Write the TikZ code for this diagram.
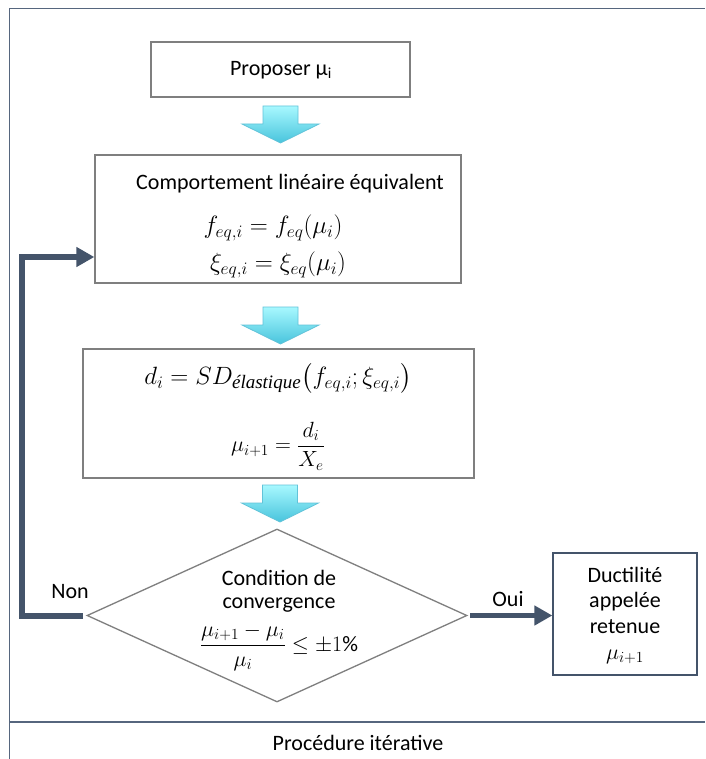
\RequirePackage{fix-cm}
\documentclass[tikz,border=0pt]{standalone}
\usepackage{amsmath}
\usepackage{fontspec}
\setmainfont{Carlito}
\newfontfamily\subserif{Liberation Serif}
\usetikzlibrary{shapes.geometric,arrows.meta}
\definecolor{boxgray}{HTML}{7F7F7F}
\definecolor{slate}{HTML}{44546A}
\definecolor{framecol}{HTML}{56667E}
\definecolor{cyantop}{HTML}{A8F8FF}
\definecolor{cyanbot}{HTML}{48C4DC}
\definecolor{cyanedge}{HTML}{62C3D9}
\tikzset{
  pics/downblock/.style={code={
    \shade[top color=cyantop, bottom color=cyanbot, draw=cyanedge, line width=0.8pt, line join=miter]
      (-17.5,0) -- (17.5,0) -- (17.5,18) -- (38.5,18) -- (0,37) -- (-38.5,18) -- (-17.5,18) -- cycle;
  }},
  txt/.style={font=\fontsize{22}{26}\selectfont, inner sep=0pt},
  bigmath/.style={font=\fontsize{25}{29}\selectfont, inner sep=0pt},
  flowbox/.style={draw=boxgray, line width=1.3pt, rectangle, inner sep=0pt},
  endbox/.style={draw=slate, line width=1.3pt, rectangle, inner sep=0pt},
  decision/.style={draw=boxgray, line width=1.3pt, diamond, inner sep=0pt},
  thickarrow/.style={draw=slate, line width=5.5pt, line join=miter,
    -{Triangle[length=18pt,width=19pt]}},
  framerule/.style={draw=framecol, line width=1.8pt}
}
\begin{document}
\begin{tikzpicture}[x=1pt,y=-1pt]
\useasboundingbox (0,0) rectangle (705,759);
\fill[white] (0,0) rectangle (705,759);

% outer frame
\draw[framerule] (9.5,759) -- (9.5,8.5) -- (705,8.5);
\draw[framerule] (9.5,722) -- (705,722);

% boxes
\node[flowbox, minimum width=259pt, minimum height=55pt] (box1) at (280.5,69.5) {};
\node[flowbox, minimum width=366pt, minimum height=128pt] (box2) at (278,219) {};
\node[flowbox, minimum width=391pt, minimum height=129pt] (box3) at (278.5,413.5) {};
\node[decision, minimum width=380pt, minimum height=173pt] (dia) at (277,615.5) {};
\node[endbox, minimum width=144pt, minimum height=122pt] (box4) at (625,614) {};

% block arrows
\pic at (280.5,106) {downblock};
\pic at (280.5,307) {downblock};
\pic at (280,485) {downblock};

% texts
\node[txt] (t1) at (281,70) {Proposer μ\textsubscript{i}};
\node[txt] (t2a) at (290,184) {Comportement linéaire équivalent};
\node[bigmath] (t2b) at (273,228) {$f_{eq,i} = f_{eq}(\mu_i)$};
\node[bigmath] (t2c) at (278,265) {$\xi_{eq,i} = \xi_{eq}(\mu_i)$};
\node[bigmath] (t3a) at (278,378) {$d_i = SD_{\text{\fontsize{19}{20}\subserif\itshape élastique}}\bigl(f_{eq,i};\xi_{eq,i}\bigr)$};
\node[txt] (t3b) at (278,446) {$\mu_{i+1} = \dfrac{d_i}{X_e}$};
\node[txt] (d1) at (279,578) {Condition de};
\node[txt] (d2) at (279,605) {convergence};
\node[txt] (d3) at (279,647) {$\dfrac{\mu_{i+1}-\mu_i}{\mu_i} \leq \pm 1\%$};
\node[txt] (b4a) at (625,575) {Ductilité};
\node[txt] (b4b) at (625,602) {appelée};
\node[txt] (b4c) at (625,627) {retenue};
\node[txt] (b4d) at (625,657) {$\mu_{i+1}$};

% connectors
\coordinate (nonstart) at (83,616);
\coordinate (nonlow) at (22,616);
\coordinate (nonhigh) at (22,257);
\draw[thickarrow] (nonstart) -- (nonlow) -- (nonhigh) -- (box2.west |- nonhigh);
\coordinate (ouistart) at (470,615.5);
\draw[thickarrow] (ouistart) -- (box4.west |- ouistart);

\node[txt] (non) at (70,592) {Non};
\node[txt] (oui) at (508,599) {Oui};
\node[txt] (proc) at (358,743) {Procédure itérative};
\end{tikzpicture}
\end{document}
